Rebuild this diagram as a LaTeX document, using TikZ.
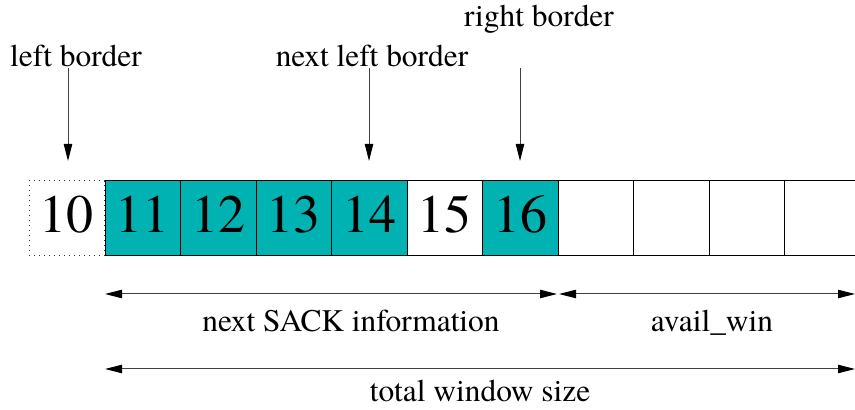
\documentclass[tikz,border=0pt]{standalone}
\usepackage{fontspec}
\setmainfont{TeX Gyre Termes}
\newfontfamily\tnr{TeX Gyre Termes}
\usetikzlibrary{arrows.meta}
\definecolor{sackteal}{RGB}{0,178,178}
\begin{document}
\begin{tikzpicture}[x=0.5pt,y=-0.5pt,
  cellbox/.style={draw=black,line width=0.5pt,minimum width=37.75pt,minimum height=37.5pt,
    inner sep=0pt,outer sep=0pt,font=\tnr\fontsize{27}{27}\selectfont,text height=14.5pt,text depth=0pt},
  acked/.style={cellbox,fill=sackteal},
  lbl/.style={font=\tnr\fontsize{15.7}{16}\selectfont,inner sep=0pt,anchor=base},
  pointer/.style={draw=black!75,line width=0.5pt,-{Triangle[length=8.5pt,width=4.2pt,black]}},
  span/.style={draw=black!75,line width=0.5pt,{Triangle[length=8.5pt,width=4.2pt,black]}-{Triangle[length=8.5pt,width=4.2pt,black]}}]
\useasboundingbox (0,0) rectangle (855,410);
\begin{scope}
\clip (0,0) rectangle (855,410);
% cells
\node[cellbox,draw=black!80,dotted,anchor=north west] (c10) at (29,181) {10};
\node[acked,anchor=north west] (c11) at (105,181) {11};
\node[acked,anchor=north west] (c12) at (180.5,181) {12};
\node[acked,anchor=north west] (c13) at (256,181) {13};
\node[acked,anchor=north west] (c14) at (331.5,181) {14};
\node[cellbox,anchor=north west] (c15) at (407,181) {15};
\node[acked,anchor=north west] (c16) at (482.5,181) {16};
\node[cellbox,anchor=north west] (c17) at (558,181) {};
\node[cellbox,anchor=north west] (c18) at (633.5,181) {};
\node[cellbox,anchor=north west] (c19) at (709,181) {};
\node[cellbox,anchor=north west] (c20) at (784.5,181) {};
\end{scope}
% top labels and pointers
\node[lbl] (lb) at (76,67) {left border};
\node[lbl] (nlb) at (372,67) {next left border};
\node[lbl] (rb) at (539,27) {right border};
\coordinate (lbs) at (68,68);
\coordinate (lbe) at (68,161);
\coordinate (nlbs) at (369,68);
\coordinate (nlbe) at (369,161);
\coordinate (rbs) at (520,68);
\coordinate (rbe) at (520,161);
\draw[pointer] (lbs) -- (lbe);
\draw[pointer] (nlbs) -- (nlbe);
\draw[pointer] (rbs) -- (rbe);
% spans
\coordinate (s1a) at (105,294);
\coordinate (s1b) at (557,294);
\coordinate (s2a) at (559,294);
\coordinate (s2b) at (855,294);
\coordinate (s3a) at (105,369);
\coordinate (s3b) at (855,369);
\draw[span] (s1a) -- (s1b);
\draw[span] (s2a) -- (s2b);
\draw[span] (s3a) -- (s3b);
\node[lbl] (sack) at (351,332) {next SACK information};
\node[lbl] (avail) at (712,332) {avail\_win};
\node[lbl] (total) at (480,401) {total window size};
\end{tikzpicture}
\end{document}
